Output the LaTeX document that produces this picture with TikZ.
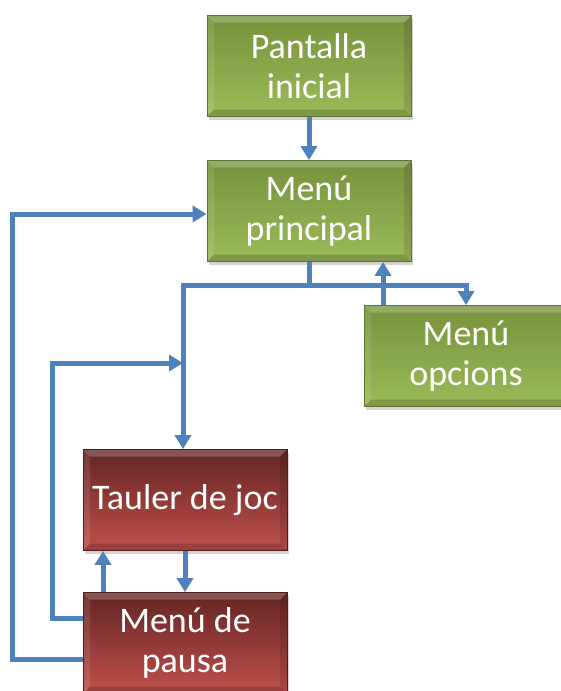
\documentclass[tikz,border=0pt]{standalone}
\usepackage{fontspec}
\setmainfont{Carlito}
\usetikzlibrary{arrows.meta,shadows}
\definecolor{linkblue}{HTML}{4F81BD}
\definecolor{greentop}{HTML}{76923C}
\definecolor{greenbot}{HTML}{9BBB59}
\definecolor{redtop}{HTML}{632523}
\definecolor{redbot}{HTML}{C0504D}
\tikzset{
    bevel/.style={path picture={
        \coordinate (nw) at (path picture bounding box.north west);
        \coordinate (ne) at (path picture bounding box.north east);
        \coordinate (sw) at (path picture bounding box.south west);
        \coordinate (se) at (path picture bounding box.south east);
        \fill[white,opacity=0.22] (nw) -- (ne) -- ([shift={(-7pt,-7pt)}]ne) -- ([shift={(7pt,-7pt)}]nw) -- cycle;
        \fill[white,opacity=0.10] (nw) -- (sw) -- ([shift={(7pt,7pt)}]sw) -- ([shift={(7pt,-7pt)}]nw) -- cycle;
        \fill[black,opacity=0.18] (sw) -- (se) -- ([shift={(-7pt,7pt)}]se) -- ([shift={(7pt,7pt)}]sw) -- cycle;
        \fill[black,opacity=0.10] (ne) -- (se) -- ([shift={(-7pt,7pt)}]se) -- ([shift={(-7pt,-7pt)}]ne) -- cycle;
    }}
}
\begin{document}
\begin{tikzpicture}[x=1pt,y=-1pt,
        screen/.style={rectangle,minimum width=204pt,minimum height=101pt,inner sep=0pt,
            align=center,text=white,font=\fontsize{36}{40}\selectfont,bevel,
            drop shadow={shadow xshift=2pt,shadow yshift=-3pt,opacity=0.35}},
        greenbox/.style={screen,top color=greentop,bottom color=greenbot,draw=greentop!80!black,line width=0.8pt},
        redbox/.style={screen,top color=redtop,bottom color=redbot,draw=redtop!80!black,line width=0.8pt},
        link/.style={linkblue,line width=5pt},
        arr/.style={link,-{Triangle[length=14pt,width=16pt]}}]
    \useasboundingbox (0,0) rectangle (560,691);
    \node[greenbox] (pantalla) at (309,66) {Pantalla\\inicial};
    \node[greenbox] (principal) at (309,211) {Menú\\principal};
    \node[greenbox] (opcions) at (466,356) {Menú\\opcions};
    \node[redbox] (tauler) at (185,500) {Tauler de joc};
    \node[redbox] (pausa) at (185,643) {Menú de\\pausa};
    \coordinate (hub) at (309,285);
    % fletxes
    \draw[arr] (pantalla) -- (principal);
    \draw[link] (principal.south) -- (hub);
    \draw[arr] (hub) -| ([xshift=-2pt]tauler.north);
    \draw[arr] (hub) -| (opcions.north);
    \draw[arr] ([xshift=-83pt]opcions.north) -- ([xshift=-83pt]opcions.north |- principal.south);
    \draw[arr] (tauler.south) -- (pausa.north);
    \draw[arr] ([xshift=-82pt]pausa.north) -- ([xshift=-82pt]tauler.south);
    \draw[arr] ([yshift=25pt]pausa.west) -- ++(-30,0) |- ([xshift=-2pt]tauler.north |- 0,363);
    \draw[arr] ([yshift=-16pt]pausa.west) -- ++(-70,0) |- ([yshift=-3pt]principal.west);
\end{tikzpicture}
\end{document}
